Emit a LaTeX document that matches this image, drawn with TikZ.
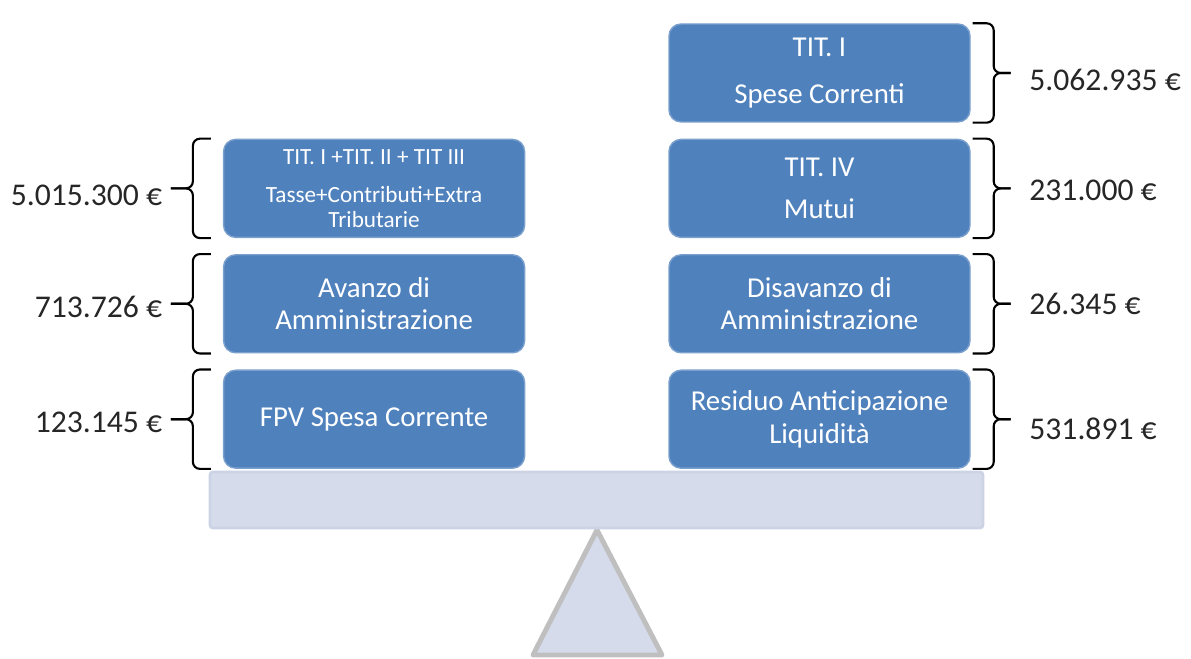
\documentclass[tikz,border=0pt]{standalone}
\usepackage{fontspec}
\setmainfont{Carlito}
\usetikzlibrary{positioning,calc}

\definecolor{boxblue}{HTML}{4F81BD}
\definecolor{beamfill}{HTML}{D5DBEA}
\definecolor{beamline}{HTML}{CBD3E5}
\definecolor{standline}{HTML}{BFBFBF}
\definecolor{sumtext}{HTML}{262626}

\begin{document}
\begin{tikzpicture}[node distance=0.16cm,
    voce/.style={rectangle, rounded corners=0.12cm, draw=boxblue!75!white, line width=0.4pt,
        fill=boxblue, text=white, minimum width=3.01cm, minimum height=0.98cm,
        inner sep=0pt, align=center, font=\fontsize{8.2}{9.2}\selectfont},
    graffa/.style={rounded corners=0.07cm, line width=0.6pt},
    importo/.style={inner sep=0pt, text=sumtext, font=\fontsize{9}{11}\selectfont}]
    \useasboundingbox (0,0) rectangle (11.91,6.59);

    % Spese (right column)
    \node[voce] (tit1) at (8.195,5.86) {TIT. I\\[4.4pt]Spese Correnti};
    \node[voce, below=of tit1] (tit4) {TIT. IV\\[3pt]Mutui};
    \node[voce, below=of tit4] (disav) {Disavanzo di\\Amministrazione};
    \node[voce, below=of disav] (resid) {Residuo Anticipazione\\Liquidità};

    % Entrate (left column)
    \node[voce, left=1.43cm of tit4, font=\fontsize{6.6}{7}\selectfont] (entrate)
        {TIT. I +TIT. II + TIT III\\[3.8pt]Tasse+Contributi+Extra\\Tributarie};
    \node[voce, left=1.43cm of disav] (avanzo) {Avanzo di\\Amministrazione};
    \node[voce, left=1.43cm of resid] (fpv) {FPV Spesa Corrente};

    % Braces (two halves meeting at the tip)
    \foreach \b in {tit1,tit4,disav,resid} {
        \draw[graffa] ([xshift=0.02cm]\b.north east) -| ($(\b.east)+(0.23,0)$) -- ++(0.17,0);
        \draw[graffa] ([xshift=0.02cm]\b.south east) -| ($(\b.east)+(0.23,0)$) -- ++(0.17,0);
    }
    \foreach \b in {entrate,avanzo,fpv} {
        \draw[graffa] ([xshift=-0.12cm]\b.north west) -| ($(\b.west)+(-0.3,0)$) -- ++(-0.22,0);
        \draw[graffa] ([xshift=-0.12cm]\b.south west) -| ($(\b.west)+(-0.3,0)$) -- ++(-0.22,0);
    }

    % Amounts
    \node[importo, right=0.58cm of tit1, yshift=-0.07cm] (imptit1) {5.062.935 €};
    \node[importo, right=0.58cm of tit4, yshift=-0.02cm] (imptit4) {231.000 €};
    \node[importo, right=0.58cm of disav] (impdisav) {26.345 €};
    \node[importo, right=0.58cm of resid, yshift=-0.1cm] (impresid) {531.891 €};
    \node[importo, left=0.6cm of entrate, yshift=-0.07cm] (impentrate) {5.015.300 €};
    \node[importo, left=0.6cm of avanzo, yshift=-0.03cm] (impavanzo) {713.726 €};
    \node[importo, left=0.6cm of fpv, yshift=-0.03cm] (impfpv) {123.145 €};

    % Scale
    \coordinate (fulcrum) at (5.97,1.29);
    \draw[draw=standline, fill=beamfill, line width=1.4pt, line join=round]
        (fulcrum) -- ++(-0.64,-1.25) -- ++(1.29,0) -- cycle;
    \node[rectangle, draw=beamline, line width=0.8pt, fill=beamfill, rounded corners=0.03cm,
        minimum width=7.73cm, minimum height=0.56cm, inner sep=0pt] (beam) at (5.965,1.59) {};
\end{tikzpicture}
\end{document}
